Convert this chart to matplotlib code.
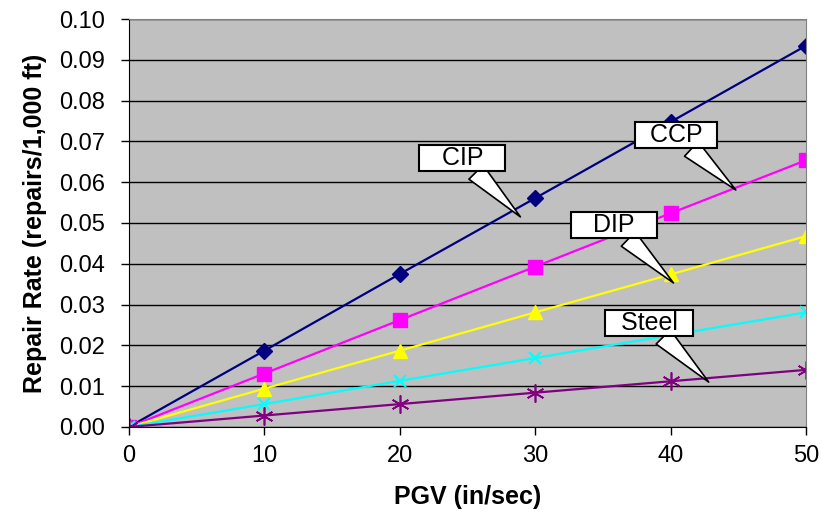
import matplotlib.pyplot as plt

plt.rcParams['font.family'] = ['Liberation Sans', 'DejaVu Sans']

pgv = [0, 10, 20, 30, 40, 50]
cip = [0, 0.0187, 0.0375, 0.0561, 0.0748, 0.0935]
ccp = [0, 0.0131, 0.0262, 0.0393, 0.0524, 0.0654]
dip = [0, 0.0094, 0.0187, 0.0281, 0.0374, 0.0468]
steel = [0, 0.0056, 0.0113, 0.0169, 0.0225, 0.0281]
other = [0, 0.0028, 0.0056, 0.0084, 0.0112, 0.0140]

fig = plt.figure(figsize=(8.21, 5.15), dpi=100)
ax = fig.add_axes([0.157, 0.171, 0.825, 0.792])
ax.set_facecolor('#C0C0C0')

ax.plot(pgv, cip, color='#000080', marker='D', ms=8, lw=1.6)
ax.plot(pgv, ccp, color='#FF00FF', marker='s', ms=10, lw=1.6)
ax.plot(pgv, dip, color='#FFFF00', marker='^', ms=10, lw=1.6)
ax.plot(pgv, steel, color='#00FFFF', marker='x', ms=9, mew=1.5, lw=1.6)
ax.plot(pgv, other, color='#800080', marker=(6, 2, 0), ms=13, mew=1.2, lw=1.6)

ax.set_xlim(0, 50)
ax.set_ylim(0, 0.10)
ax.set_xticks(pgv)
ax.set_yticks([i / 100 for i in range(11)])
ax.set_yticklabels([f'{i / 100:.2f}' for i in range(11)])
ax.yaxis.grid(True, color='black', lw=1)
ax.set_axisbelow(True)
ax.tick_params(labelsize=17, length=6, width=1)
ax.tick_params(axis='y', pad=11)
ax.tick_params(axis='x', pad=7)

for s in ['top', 'right']:
    ax.spines[s].set_color('#808080')
for s in ['left', 'bottom']:
    ax.spines[s].set_color('black')

ax.set_xlabel('PGV (in/sec)', fontsize=18, fontweight='bold', labelpad=13)
ax.set_ylabel('Repair Rate (repairs/1,000 ft)', fontsize=18, fontweight='bold', labelpad=9)

callouts = [
    ('   CIP   ', (24.6, 0.0659), (28.9, 0.0515)),
    ('  CCP  ', (40.4, 0.0716), (44.8, 0.0581)),
    ('   DIP   ', (35.8, 0.0495), (40.2, 0.0353)),
    ('  Steel  ', (38.4, 0.0255), (42.8, 0.0110)),
]
for label, txt, tip in callouts:
    ax.annotate(label, xy=tip, xytext=txt, fontsize=18, ha='center', va='center',
                bbox=dict(boxstyle='square,pad=0.05', fc='white', ec='black', lw=1.5),
                arrowprops=dict(arrowstyle='wedge,tail_width=0.8', fc='white', ec='black',
                                lw=1.2, shrinkA=0, shrinkB=0))

fig.savefig('out.png', dpi=100)
